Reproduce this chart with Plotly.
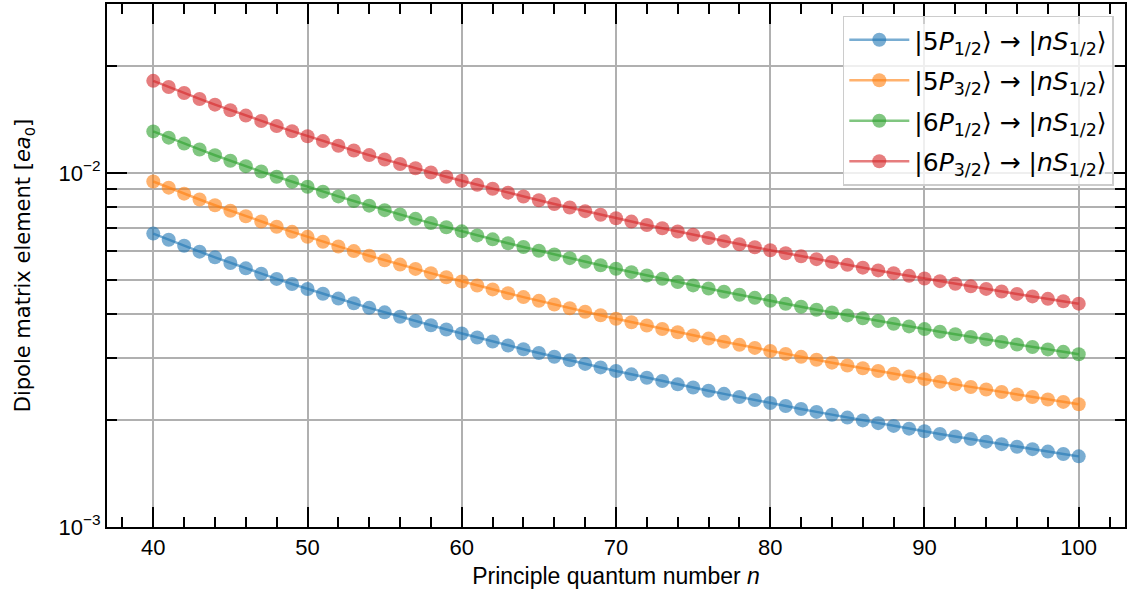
import math
import plotly.graph_objects as go

# Principal quantum number n
n_values = list(range(40, 101))

# Dipole matrix elements in units of 1e-3 e*a0
d_5p12 = [6.740, 6.475, 6.227, 5.994, 5.775, 5.569, 5.376, 5.193, 5.020, 4.857,
          4.702, 4.556, 4.417, 4.285, 4.159, 4.039, 3.925, 3.816, 3.713, 3.613,
          3.518, 3.428, 3.341, 3.257, 3.177, 3.101, 3.027, 2.956, 2.888, 2.823,
          2.759, 2.699, 2.640, 2.584, 2.529, 2.477, 2.426, 2.377, 2.329, 2.283,
          2.239, 2.196, 2.154, 2.114, 2.075, 2.037, 2.000, 1.965, 1.930, 1.896,
          1.864, 1.832, 1.801, 1.771, 1.742, 1.714, 1.686, 1.659, 1.633, 1.607,
          1.583]
d_5p32 = [9.460, 9.088, 8.739, 8.412, 8.106, 7.817, 7.545, 7.289, 7.046, 6.817,
          6.600, 6.394, 6.199, 6.014, 5.837, 5.669, 5.509, 5.357, 5.211, 5.072,
          4.938, 4.811, 4.689, 4.572, 4.460, 4.352, 4.249, 4.149, 4.054, 3.962,
          3.873, 3.788, 3.706, 3.626, 3.550, 3.476, 3.405, 3.336, 3.269, 3.205,
          3.142, 3.082, 3.024, 2.967, 2.912, 2.859, 2.807, 2.757, 2.709, 2.662,
          2.616, 2.571, 2.528, 2.486, 2.445, 2.405, 2.366, 2.329, 2.292, 2.256,
          2.221]
d_6p12 = [13.10, 12.58, 12.10, 11.65, 11.22, 10.82, 10.45, 10.09, 9.757, 9.440,
          9.140, 8.855, 8.584, 8.328, 8.083, 7.851, 7.629, 7.418, 7.216, 7.023,
          6.839, 6.662, 6.493, 6.331, 6.176, 6.027, 5.883, 5.746, 5.613, 5.486,
          5.363, 5.245, 5.132, 5.022, 4.916, 4.813, 4.715, 4.619, 4.527, 4.438,
          4.352, 4.268, 4.187, 4.109, 4.033, 3.959, 3.888, 3.818, 3.751, 3.686,
          3.622, 3.561, 3.501, 3.442, 3.386, 3.330, 3.277, 3.225, 3.174, 3.124,
          3.076]
d_6p32 = [18.20, 17.48, 16.81, 16.18, 15.59, 15.04, 14.52, 14.02, 13.56, 13.12,
          12.70, 12.30, 11.93, 11.57, 11.23, 10.91, 10.60, 10.31, 10.03, 9.757,
          9.501, 9.255, 9.021, 8.796, 8.580, 8.373, 8.174, 7.983, 7.799, 7.622,
          7.451, 7.287, 7.129, 6.977, 6.830, 6.687, 6.550, 6.418, 6.290, 6.166,
          6.046, 5.930, 5.817, 5.708, 5.603, 5.501, 5.401, 5.305, 5.211, 5.121,
          5.032, 4.947, 4.863, 4.783, 4.704, 4.627, 4.553, 4.480, 4.409, 4.341,
          4.274]

series_labels = [
    "|5<i>P</i><sub>1/2</sub>⟩ → |<i>nS</i><sub>1/2</sub>⟩",
    "|5<i>P</i><sub>3/2</sub>⟩ → |<i>nS</i><sub>1/2</sub>⟩",
    "|6<i>P</i><sub>1/2</sub>⟩ → |<i>nS</i><sub>1/2</sub>⟩",
    "|6<i>P</i><sub>3/2</sub>⟩ → |<i>nS</i><sub>1/2</sub>⟩",
]
series_values = [d_5p12, d_5p32, d_6p12, d_6p32]
series_rgb = ["31,119,180", "255,127,14", "44,160,44", "214,39,40"]

x_ticks = [40, 50, 60, 70, 80, 90, 100]
y_major = [1e-3, 1e-2]
y_major_text = ["10<sup>−3</sup>", "10<sup>−2</sup>"]
y_minor = [2e-3, 3e-3, 4e-3, 5e-3, 6e-3, 7e-3, 8e-3, 9e-3, 2e-2, 3e-2]

fig = go.Figure()
for i, (lab, vals, rgb) in enumerate(zip(series_labels, series_values, series_rgb)):
    fig.add_trace(go.Scatter(
        x=n_values, y=[v * 1e-3 for v in vals], mode="lines+markers", name=lab,
        legendgroup=f"g{i}",
        line=dict(color=f"rgba({rgb},0.6)", width=2.5),
        marker=dict(size=14, color=f"rgba({rgb},0.6)", line=dict(width=0)),
    ))

axis_font = dict(family="Liberation Sans, Arial, sans-serif", size=22, color="black")
xlab_font = dict(family="Liberation Sans, Arial, sans-serif", size=23, color="black")
ylab_font = dict(family="DejaVu Sans", size=21, color="black")

fig.update_layout(
    width=1129, height=604,
    margin=dict(l=107, r=2, t=2, b=77),
    paper_bgcolor="white", plot_bgcolor="white",
    font=axis_font,
    showlegend=True,
    legend=dict(
        x=0.989, y=0.978, xanchor="right", yanchor="top",
        bgcolor="rgba(255,255,255,0.8)", bordercolor="#cccccc", borderwidth=1.5,
        font=dict(family="DejaVu Sans", size=25, color="black"),
        tracegroupgap=5, itemwidth=60,
    ),
)

fig.update_xaxes(
    range=[37, 103], tickmode="array", tickvals=x_ticks,
    ticks="inside", ticklen=20, tickwidth=2, tickcolor="black",
    showline=True, linecolor="black", linewidth=2, mirror="ticks",
    showgrid=True, gridcolor="#b0b0b0", gridwidth=2, zeroline=False,
    minor=dict(ticks="inside", ticklen=10, tickwidth=1.5, tickcolor="black",
               dtick=2, tick0=0, showgrid=False),
    tickfont=axis_font,
    title=dict(text="Principle quantum number <i>n</i>", font=xlab_font, standoff=8),
)

fig.update_yaxes(
    type="log", range=[-3, math.log10(0.03)],
    tickmode="array", tickvals=y_major, ticktext=y_major_text,
    ticks="inside", ticklen=20, tickwidth=2, tickcolor="black",
    showline=True, linecolor="black", linewidth=2, mirror="ticks",
    showgrid=True, gridcolor="#b0b0b0", gridwidth=2, zeroline=False,
    minor=dict(ticks="inside", ticklen=10, tickwidth=1.5, tickcolor="black",
               tickvals=y_minor, showgrid=True, gridcolor="#b0b0b0", gridwidth=2),
    tickfont=axis_font,
    title=dict(text="Dipole matrix element [<i>ea</i><sub>0</sub>]", font=ylab_font, standoff=22),
)

fig.write_html("out.html")
